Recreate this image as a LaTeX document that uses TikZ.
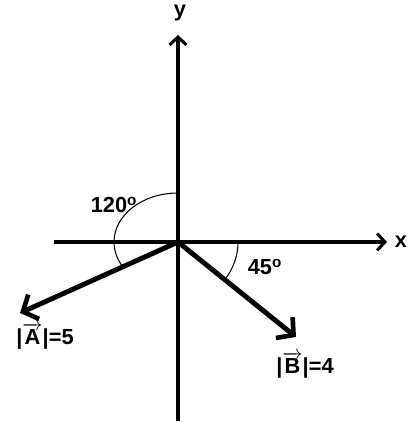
\documentclass[tikz,border=0pt]{standalone}
\usepackage{fontspec}
\setmainfont{Liberation Sans}
\usetikzlibrary{arrows.meta}
\tikzset {
  >={Straight Barb[length=5.5pt,width=12pt,line width=2.2pt]},
  every node/.style={font=\fontsize{15.5}{18}\selectfont\bfseries, inner sep=1pt},
  axis/.style={line width=2.4pt},
  vec/.style={line width=3.5pt,-{Straight Barb[length=8.5pt,width=19pt,line width=3.3pt]}},
  angarc/.style={line width=0.75pt},
}

\begin{document}
\begin{tikzpicture}[x=0.025cm,y=0.025cm]
          \useasboundingbox (0,0) rectangle (416,423);
          \coordinate (O) at (178,181);
          \coordinate (xl) at (54,181);
          \coordinate (xr) at (387,181);
          \coordinate (yb) at (178,2);
          \coordinate (yt) at (178,388);
          \coordinate (Atip) at (20,110);
          \coordinate (Btip) at (296,86);
          \draw[axis,->] (xl) -- (xr);
          \draw[axis,->] (yb) -- (yt);
          \node (xlab) at (401,181) {x};
          \node (ylab) at (180,410) {y};
          \draw[vec] (O) -- (Atip);
          \draw[vec] (O) -- (Btip);
          \draw[angarc] (O) ++(0,49) arc[start angle=90, end angle=210, x radius=64, y radius=49];
          \draw[angarc] (O) ++(60,0) arc[start angle=0, end angle=-39, radius=60];
          \node (angA) at (114,218) {120\textsuperscript{o}};
          \node (angB) at (265,156) {45\textsuperscript{o}};
          \node (labA) at (45,87) {|$\overrightarrow{\mbox{\bfseries A}}$|=5};
          \node (labB) at (305,58) {|$\overrightarrow{\mbox{\bfseries B}}$|=4};
        \end{tikzpicture}
\end{document}
